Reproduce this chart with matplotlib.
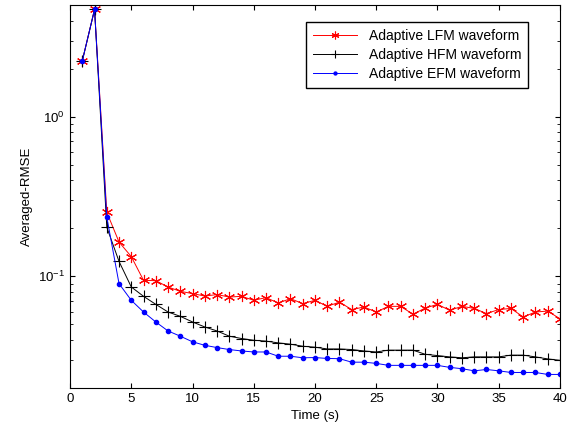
import matplotlib
matplotlib.use('Agg')
import matplotlib.pyplot as plt

plt.rcParams['font.family'] = ['Liberation Sans', 'DejaVu Sans']

time_s = list(range(1, 41))

lfm = [2.24, 4.7, 0.252, 0.164, 0.133, 0.0944, 0.094, 0.0858, 0.0806, 0.078,
       0.0753, 0.0769, 0.0742, 0.075, 0.0708, 0.0736, 0.0681, 0.0725, 0.0675, 0.0708,
       0.0649, 0.069, 0.0619, 0.0643, 0.0598, 0.0649, 0.0649, 0.0579, 0.0633, 0.0668,
       0.0613, 0.0649, 0.063, 0.0585, 0.0619, 0.063, 0.0557, 0.0598, 0.0606, 0.0543]

hfm = [2.24, 4.7, 0.203, 0.124, 0.0858, 0.075, 0.0668, 0.0598, 0.0562, 0.0518,
       0.0482, 0.0455, 0.0422, 0.0408, 0.0398, 0.0393, 0.0383, 0.0376, 0.0365, 0.036,
       0.0351, 0.0351, 0.0348, 0.0341, 0.0336, 0.0345, 0.0345, 0.0345, 0.0325, 0.0319,
       0.0313, 0.0309, 0.0313, 0.0313, 0.0313, 0.0321, 0.0321, 0.0313, 0.0304, 0.0298]

efm = [2.24, 4.7, 0.235, 0.090, 0.0708, 0.0598, 0.0518, 0.0455, 0.0422, 0.0389,
       0.037, 0.0358, 0.0348, 0.0341, 0.0336, 0.0336, 0.0316, 0.0316, 0.0309, 0.031,
       0.0306, 0.0305, 0.029, 0.029, 0.0285, 0.0277, 0.0277, 0.0277, 0.0277, 0.0277,
       0.0269, 0.0264, 0.0256, 0.0261, 0.0256, 0.025, 0.025, 0.025, 0.0243, 0.0243]

fig = plt.figure(figsize=(5.79, 4.32), dpi=100)
ax = fig.add_axes([0.121, 0.102, 0.846, 0.886])

# matlab-like asterisk marker
ax.semilogy(time_s, lfm, color='red', marker=(6, 2, 0), markersize=8,
            markeredgewidth=0.8, linewidth=0.7, label='Adaptive LFM waveform')
ax.semilogy(time_s, hfm, color='black', marker='+', markersize=9,
            markeredgewidth=0.8, linewidth=0.7, label='Adaptive HFM waveform')
ax.semilogy(time_s, efm, color='blue', marker='.', markersize=6,
            linewidth=0.7, label='Adaptive EFM waveform')

ax.set_xlim(0, 40)
ax.set_ylim(0.02, 5)
ax.set_xticks(range(0, 41, 5))
ax.tick_params(which='both', direction='in', top=True, right=True, labelsize=9.5)
ax.set_xlabel('Time (s)', fontsize=9.5)
ax.set_ylabel('Averaged-RMSE', fontsize=9.5)

ax.legend(loc='upper right', fontsize=10, fancybox=False, edgecolor='black',
          framealpha=1, handlelength=3.2, borderaxespad=0, markerscale=0.7,
          bbox_to_anchor=(0.935, 0.955), borderpad=0.5, labelspacing=0.35)

plt.savefig('out.png')
